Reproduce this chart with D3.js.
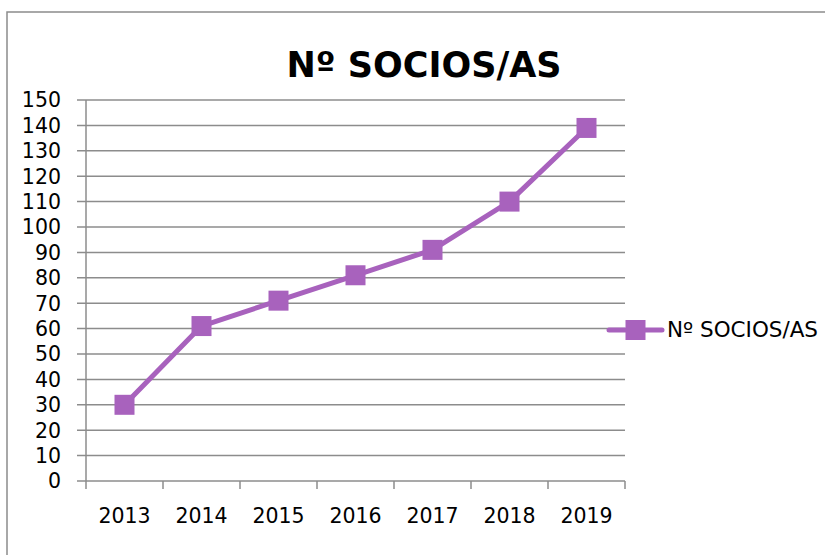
<!DOCTYPE html>
<html>
<head>
<meta charset="utf-8">
<script src="https://cdn.jsdelivr.net/npm/d3@7"></script>
<style>
  body { margin: 0; background: #fff; }
  svg { display: block; font-family: "DejaVu Sans", sans-serif; }
</style>
</head>
<body>
<svg width="825" height="555"></svg>
<script>
// datos
var years = ["2013", "2014", "2015", "2016", "2017", "2018", "2019"];
var socios = [30, 61, 71, 81, 91, 110, 139];
var yTicks = d3.range(0, 151, 10);
var serieName = "Nº SOCIOS/AS";
var titulo = "Nº SOCIOS/AS";

var svg = d3.select("svg");
var color = "#a862bd";

// marco del grafico
svg.append("rect")
  .attr("x", 7).attr("y", 12)
  .attr("width", 830).attr("height", 560)
  .attr("fill", "none")
  .attr("stroke", "#8c8c8c")
  .attr("stroke-width", 1.5);

var mLeft = 86, mRight = 625, mTop = 100, mBottom = 481;

var x = d3.scaleBand().domain(years).range([mLeft, mRight]);
var y = d3.scaleLinear().domain([0, 150]).range([mBottom, mTop]);

// lineas de rejilla
svg.append("g")
  .selectAll("line")
  .data(yTicks)
  .enter()
  .append("line")
  .attr("x1", mLeft - 9)
  .attr("x2", mRight)
  .attr("y1", d => y(d))
  .attr("y2", d => y(d))
  .attr("stroke", "#8c8c8c")
  .attr("stroke-width", 1.5);

// eje y
svg.append("line")
  .attr("x1", mLeft).attr("x2", mLeft)
  .attr("y1", mTop).attr("y2", mBottom + 8)
  .attr("stroke", "#8c8c8c").attr("stroke-width", 1.5);

svg.append("g")
  .selectAll("text")
  .data(yTicks)
  .enter()
  .append("text")
  .attr("x", 61)
  .attr("y", d => y(d))
  .attr("dy", "0.36em")
  .attr("text-anchor", "end")
  .attr("font-size", 20.5)
  .text(d => d);

// eje x
svg.append("g")
  .selectAll("line")
  .data(years)
  .enter()
  .append("line")
  .attr("x1", d => x(d) + x.bandwidth())
  .attr("x2", d => x(d) + x.bandwidth())
  .attr("y1", mBottom)
  .attr("y2", mBottom + 8)
  .attr("stroke", "#8c8c8c").attr("stroke-width", 1.5);

svg.append("g")
  .selectAll("text")
  .data(years)
  .enter()
  .append("text")
  .attr("x", d => x(d) + x.bandwidth() / 2)
  .attr("y", 523)
  .attr("text-anchor", "middle")
  .attr("font-size", 20.5)
  .text(d => d);

// titulo
svg.append("text")
  .attr("x", 424).attr("y", 77)
  .attr("text-anchor", "middle")
  .attr("font-size", 35.5)
  .attr("font-weight", "bold")
  .attr("textLength", 275)
  .attr("lengthAdjust", "spacingAndGlyphs")
  .text(titulo);

// linea
var line = d3.line()
  .x((d, i) => x(years[i]) + x.bandwidth() / 2)
  .y(d => y(d));

svg.append("path")
  .datum(socios)
  .attr("d", line)
  .attr("fill", "none")
  .attr("stroke", color)
  .attr("stroke-width", 5)
  .attr("stroke-linejoin", "round");

var ms = 20;
svg.selectAll(".marker")
  .data(socios)
  .enter()
  .append("rect")
  .attr("class", "marker")
  .attr("x", (d, i) => x(years[i]) + x.bandwidth() / 2 - ms / 2)
  .attr("y", d => y(d) - ms / 2)
  .attr("width", ms).attr("height", ms)
  .attr("fill", color);

// leyenda
var lg = svg.append("g").attr("transform", "translate(609,330)");
lg.append("line")
  .attr("x1", 0).attr("x2", 53)
  .attr("stroke", color).attr("stroke-width", 5)
  .attr("stroke-linecap", "round");
lg.append("rect")
  .attr("x", 26.5 - ms / 2).attr("y", -ms / 2)
  .attr("width", ms).attr("height", ms)
  .attr("fill", color);
lg.append("text")
  .attr("x", 58).attr("y", 0)
  .attr("dy", "0.36em")
  .attr("font-size", 20.5)
  .attr("textLength", 151)
  .attr("lengthAdjust", "spacingAndGlyphs")
  .text(serieName);
</script>
</body>
</html>
